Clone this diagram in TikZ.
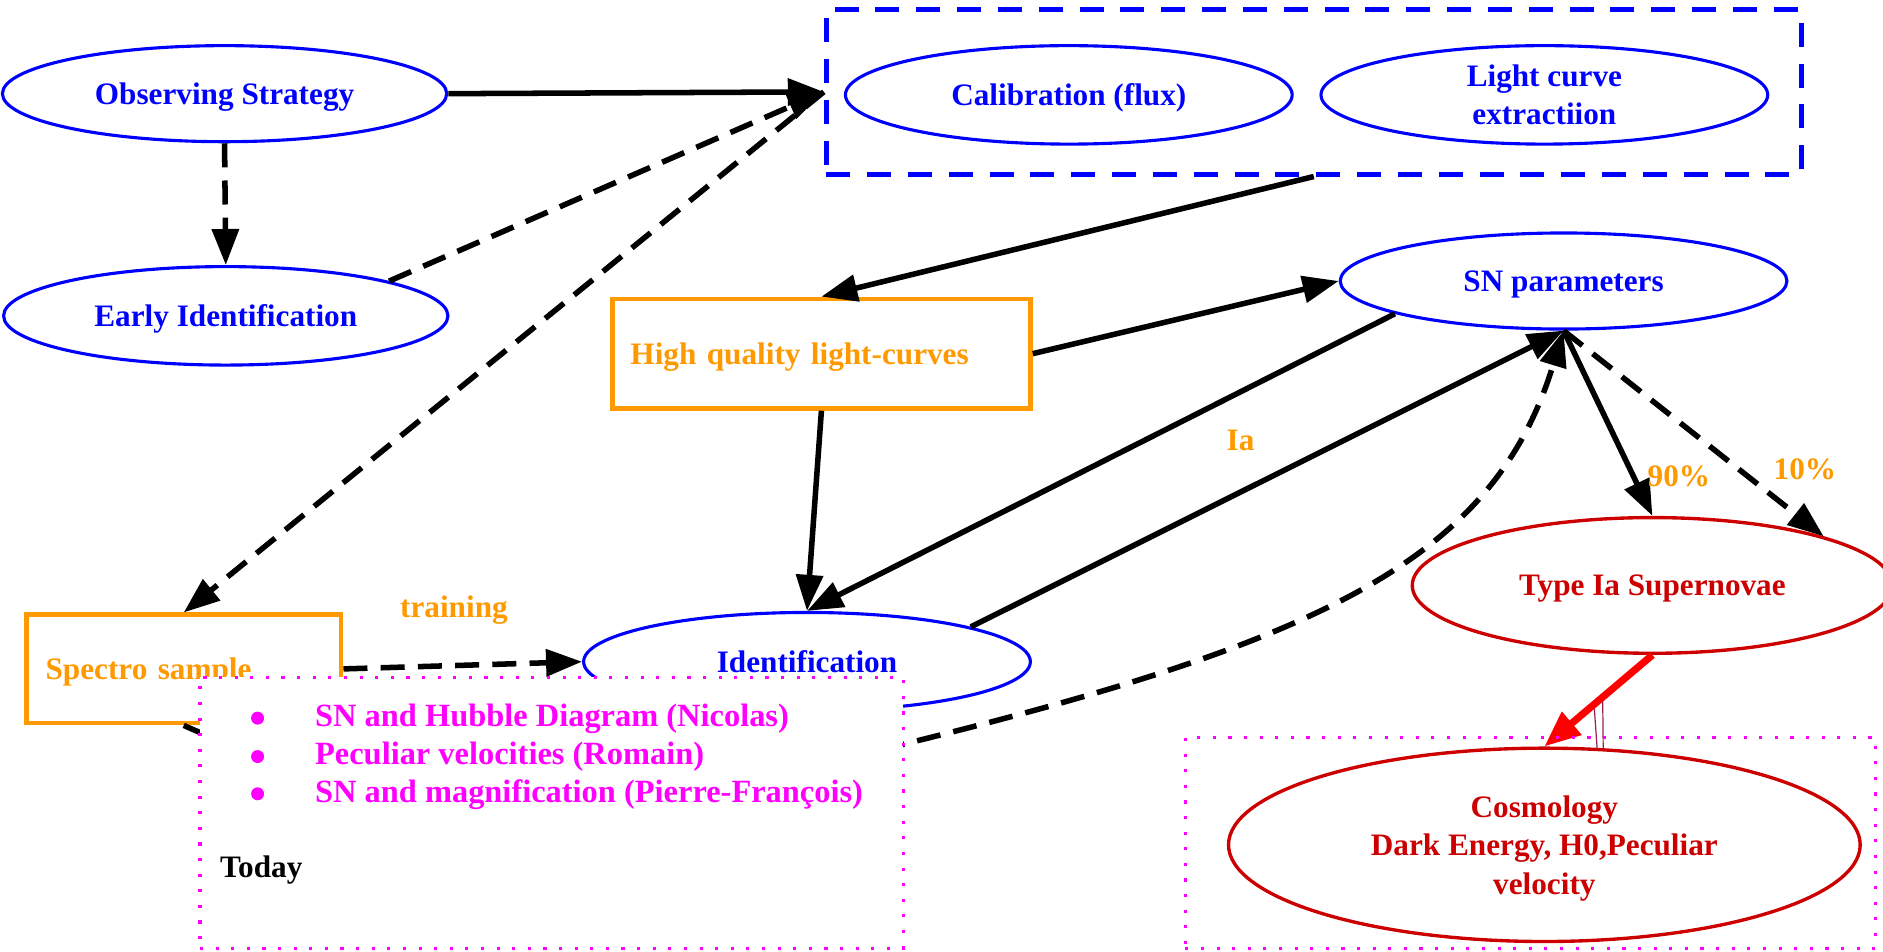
\documentclass[tikz,border=0pt]{standalone}
\usepackage{fontspec}
\setmainfont{Liberation Serif}
\usetikzlibrary{shapes.geometric,arrows.meta}
\definecolor{nodeblue}{RGB}{0,0,255}
\definecolor{hqorange}{RGB}{255,153,0}
\definecolor{snred}{RGB}{204,0,0}
\definecolor{noteMagenta}{RGB}{255,0,255}
\definecolor{tickred}{RGB}{150,30,80}

\begin{document}
\begin{tikzpicture}[x=0.5pt,y=-0.5pt,
  font=\fontsize{13}{16}\selectfont\bfseries,
  blueell/.style={ellipse,draw=nodeblue,line width=1.3pt,text=nodeblue,inner sep=0pt,align=center,text depth=0pt},
  redell/.style={ellipse,draw=snred,line width=1.4pt,text=snred,inner sep=0pt,align=center,text depth=0pt},
  orbox/.style={rectangle,draw=hqorange,line width=2pt,text=hqorange,align=left,text depth=0pt},
  flow/.style={line width=2.3pt,-{Triangle[length=15pt,width=11pt]}},
  flowdash/.style={flow,dash pattern=on 10pt off 5.5pt},
  pct/.style={text=hqorange},
  dotbox/.style={draw=noteMagenta,line width=1.3pt,dash pattern=on 1.3pt off 5.2pt,inner sep=0pt},
  notetext/.style={text=noteMagenta,anchor=base west,inner sep=0pt,font=\fontsize{13.5}{16}\selectfont\bfseries},
  bulletdot/.style={circle,fill=noteMagenta,inner sep=0pt,minimum size=5.4pt}
]
\useasboundingbox (0,0) rectangle (1568,792);

% --- upper pipeline ---
\node[blueell,minimum width=185pt,minimum height=40pt] (obs) at (187,78) {Observing Strategy};
\node[blueell,minimum width=185pt,minimum height=41pt] (early) at (188,263) {Early Identification};
\node[draw=nodeblue,line width=2pt,dash pattern=on 10pt off 7pt,minimum width=406pt,minimum height=68.5pt,inner sep=0pt] (grp) at (1094,76.5) {};
\node[blueell,minimum width=186pt,minimum height=41pt] (calib) at (890,79) {Calibration (flux)};
\node[blueell,minimum width=186pt,minimum height=41pt] (lce) at (1286,79) {Light curve\\extractiion};
\node[blueell,minimum width=186pt,minimum height=40pt] (snp) at (1302,234) {SN parameters};

% --- light curves, samples, identification ---
\node[orbox,minimum width=174pt,minimum height=45.5pt,inner xsep=7.5pt,text width=159pt] (hq) at (684,294.5) {High quality light-curves};
\node[orbox,minimum width=131pt,minimum height=45pt,inner xsep=8pt,text width=115pt] (spectro) at (153,557) {Spectro sample};
\node[blueell,minimum width=186pt,minimum height=41pt] (ident) at (672,551) {Identification};

% --- supernovae and cosmology ---
\node[redell,minimum width=200pt,minimum height=56.5pt] (typeia) at (1376,487.5) {Type Ia Supernovae};
\node[redell,minimum width=263pt,minimum height=80.5pt] (cosmo) at (1286,703.5) {Cosmology\\Dark Energy, H0,Peculiar\\velocity};

% --- connectors ---
\draw[flow] (obs.east) -- (grp.west);
\draw[flowdash] (obs.south) -- (early.north);
\draw[flowdash] (early.12) -- (grp.west);
\draw[flowdash] (grp.west) -- (spectro.north);
\draw[flow] (grp.south) -- (hq.north);
\draw[flow] (hq.east) -- (snp.west);
\draw[flow] (hq.south) -- (ident.north);
\draw[flow] (snp.191) -- (ident.north);
\draw[flow] (ident.12) -- (snp.south);
\draw[flowdash] (spectro.east) -- (ident.west);
\coordinate (curvemid) at (751,620);
\draw[flowdash] (spectro.south) .. controls (255,652) and (501,681) .. (curvemid)
  .. controls (1101,534) and (1244,466) .. (snp.south);
\draw[flow] (snp.south) -- (typeia.north);
\draw[flowdash] (snp.south) -- (typeia.16);
\draw[red,line width=3pt,-{Triangle[length=15pt,width=12pt]}] (typeia.south) -- (cosmo.north);
\draw[tickred,line width=0.5pt] (1327.6,590) -- (1330,624);
\draw[tickred,line width=0.5pt] (1334.6,584) -- (1335,624);

% --- labels on connectors ---
\node[pct] (lblia) at (1033,367) {Ia};
\node[pct] (lbltrain) at (378,508) {training};
\node[pct] (lbl90) at (1398,397) {90\%};
\node[pct] (lbl10) at (1503,391) {10\%};

% --- dotted note boxes ---
\node[dotbox,minimum width=287.5pt,minimum height=87.75pt] (cosmobox) at (1274.5,701.75) {};
\node[dotbox,fill=white,minimum width=292.75pt,minimum height=112.75pt] (notes) at (459.25,676.75) {};
\node[bulletdot] (b1) at (214.5,598) {};
\node[bulletdot] (b2) at (214.5,630) {};
\node[bulletdot] (b3) at (214.5,661) {};
\node[notetext] (n1) at (262,605) {SN and Hubble Diagram (Nicolas)};
\node[notetext] (n2) at (262,637) {Peculiar velocities (Romain)};
\node[notetext] (n3) at (262,668) {SN and magnification (Pierre-François)};
\node[anchor=base west,inner sep=0pt] (today) at (183,731) {Today};
\end{tikzpicture}
\end{document}
